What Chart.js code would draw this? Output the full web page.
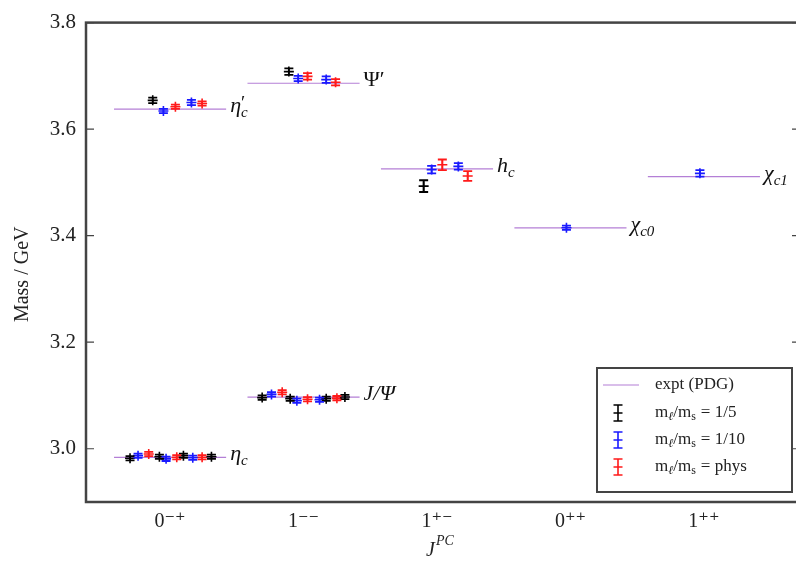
<!DOCTYPE html>
<html>
<head>
<meta charset="utf-8">
<script src="https://cdn.jsdelivr.net/npm/chart.js@4.4.0/dist/chart.umd.min.js"></script>
<style>
html, body { margin: 0; padding: 0; background: #fff; overflow: hidden; }
#wrap { width: 810px; height: 563px; }
</style>
</head>
<body>
<div id="wrap"><canvas id="mycanvas" width="810" height="563"></canvas></div>
<script>
var categories = ['0\u207B\u207A', '1\u207B\u207B', '1\u207A\u207B', '0\u207A\u207A', '1\u207A\u207A'];
var yTicks = [3.0, 3.2, 3.4, 3.6, 3.8];

// experimental (PDG) states
var pdgCat  = [0, 0, 1, 1, 2, 3, 4];
var pdgMass = [2.9836, 3.6375, 3.0969, 3.6861, 3.5253, 3.4147, 3.5107];
var pdgName = ['\u03B7', '\u03B7', 'J/\u03A8', '\u03A8\u2032', 'h', '\u03C7', '\u03C7'];
var pdgSub  = ['c', 'c', '', '', 'c', 'c0', 'c1'];
var pdgSup  = ['', '\u2032', '', '', '', '', ''];

// lattice results, x = category + offset
var m5X   = [-0.30, -0.08, 0.10, 0.31, -0.13, 0.69, 0.90, 1.17, 1.31, 0.89, 1.90];
var m5Y   = [2.982, 2.985, 2.987, 2.985, 3.654, 3.096, 3.094, 3.094, 3.097, 3.708, 3.493];
var m5Err = [0.004, 0.004, 0.004, 0.004, 0.005, 0.004, 0.004, 0.004, 0.004, 0.006, 0.011];

var m10X   = [-0.24, -0.03, 0.17, -0.05, 0.16, 0.76, 0.95, 1.12, 0.96, 1.17, 1.96, 2.16, 2.97, 3.97];
var m10Y   = [2.987, 2.981, 2.983, 3.634, 3.650, 3.102, 3.090, 3.092, 3.695, 3.693, 3.524, 3.530, 3.415, 3.517];
var m10Err = [0.004, 0.004, 0.004, 0.004, 0.005, 0.004, 0.004, 0.004, 0.005, 0.006, 0.007, 0.006, 0.004, 0.006];

var physX   = [-0.16, 0.05, 0.24, 0.04, 0.24, 0.84, 1.03, 1.25, 1.03, 1.24, 2.04, 2.23];
var physY   = [2.990, 2.984, 2.984, 3.642, 3.648, 3.106, 3.093, 3.095, 3.699, 3.688, 3.533, 3.512];
var physErr = [0.004, 0.004, 0.004, 0.004, 0.004, 0.004, 0.004, 0.004, 0.006, 0.006, 0.010, 0.009];

var halfWidth = 0.42;
var lineColor = '#b47fd6';
var serif = '"Liberation Serif", "DejaVu Serif", serif';

function pts(xs, ys) {
    var out = [];
    for (var i in xs) out.push({ x: xs[i], y: ys[i] });
    return out;
}

var datasets = [];
for (var i in pdgCat) {
    datasets.push({
        type: 'scatter',
        showLine: true,
        data: [{ x: pdgCat[i] - halfWidth, y: pdgMass[i] }, { x: pdgCat[i] + halfWidth, y: pdgMass[i] }],
        borderColor: lineColor,
        borderWidth: 1.2,
        pointRadius: 0,
        order: 10
    });
}
[[m5X, m5Y, m5Err, '#000000'], [m10X, m10Y, m10Err, '#1a1aff'], [physX, physY, physErr, '#ff1a1a']].forEach(function (s) {
    datasets.push({
        type: 'scatter',
        data: pts(s[0], s[1]),
        err: s[2],
        borderColor: s[3],
        backgroundColor: s[3],
        pointStyle: 'cross',
        pointRadius: 5,
        borderWidth: 1.6,
        order: 1
    });
});

function drawMath(ctx, x, y, base, sub, sup, size) {
    var upright = base.charAt(0) === '\u03A8';
    ctx.font = (upright ? '' : 'italic ') + size + 'px ' + serif;
    ctx.fillText(base, x, y);
    var w = ctx.measureText(base).width;
    ctx.font = 'italic ' + Math.round(size * 0.68) + 'px ' + serif;
    if (sub) ctx.fillText(sub, x + w, y + size * 0.22);
    if (sup) {
        ctx.font = Math.round(size * 0.85) + 'px ' + serif;
        ctx.fillText(sup, x + w, y - size * 0.15);
    }
}

var decor = {
    id: 'decor',
    afterDatasetsDraw: function (chart) {
        var ctx = chart.ctx, xs = chart.scales.x, ys = chart.scales.y;
        ctx.save();
        chart.data.datasets.forEach(function (ds) {
            if (!ds.err) return;
            ctx.strokeStyle = ds.borderColor;
            ctx.lineWidth = 1.8;
            ds.data.forEach(function (p, k) {
                var px = xs.getPixelForValue(p.x);
                var top = ys.getPixelForValue(p.y + ds.err[k]);
                var bot = ys.getPixelForValue(p.y - ds.err[k]);
                ctx.beginPath();
                ctx.moveTo(px, top); ctx.lineTo(px, bot);
                ctx.moveTo(px - 4.5, top); ctx.lineTo(px + 4.5, top);
                ctx.moveTo(px - 4.5, bot); ctx.lineTo(px + 4.5, bot);
                ctx.stroke();
            });
        });
        ctx.restore();
    },
    afterDraw: function (chart) {
        var ctx = chart.ctx, xs = chart.scales.x, ys = chart.scales.y, a = chart.chartArea;
        ctx.save();
        // state labels
        ctx.fillStyle = '#111';
        ctx.textBaseline = 'alphabetic';
        ctx.textAlign = 'left';
        for (var i in pdgCat) {
            var lx = xs.getPixelForValue(pdgCat[i] + halfWidth) + 4;
            var ly = ys.getPixelForValue(pdgMass[i]) + 3;
            drawMath(ctx, lx, ly, pdgName[i], pdgSub[i], pdgSup[i], 22);
        }
        // frame and inner ticks
        ctx.strokeStyle = '#444';
        ctx.lineWidth = 2.5;
        ctx.strokeRect(a.left, a.top, a.right - a.left, a.bottom - a.top);
        ctx.lineWidth = 1.2;
        yTicks.forEach(function (v) {
            var py = ys.getPixelForValue(v);
            ctx.beginPath();
            ctx.moveTo(a.left, py); ctx.lineTo(a.left + 8, py);
            ctx.moveTo(a.right, py); ctx.lineTo(a.right - 8, py);
            ctx.stroke();
        });
        // axis titles
        ctx.fillStyle = '#222';
        ctx.font = '20px ' + serif;
        ctx.save();
        ctx.translate(28, (a.top + a.bottom) / 2 + 12);
        ctx.rotate(-Math.PI / 2);
        ctx.textAlign = 'center';
        ctx.fillText('Mass / GeV', 0, 0);
        ctx.restore();
        var cx = (a.left + a.right) / 2 - 17;
        ctx.font = 'italic 20px ' + serif;
        ctx.fillText('J', cx, 556);
        ctx.font = 'italic 14px ' + serif;
        ctx.fillText('PC', cx + 10, 545);
        // legend
        var lw = 195, lh = 124;
        var bx = a.right - 8 - lw, by = a.bottom - 10 - lh;
        ctx.fillStyle = '#fff';
        ctx.fillRect(bx, by, lw, lh);
        ctx.strokeStyle = '#444';
        ctx.lineWidth = 2;
        ctx.strokeRect(bx, by, lw, lh);
        var rows = [by + 17, by + 45, by + 72, by + 99];
        var ix = bx + 21, tx = bx + 58;
        ctx.strokeStyle = lineColor;
        ctx.lineWidth = 1.2;
        ctx.beginPath(); ctx.moveTo(bx + 6, rows[0]); ctx.lineTo(bx + 42, rows[0]); ctx.stroke();
        ['#000000', '#1a1aff', '#ff1a1a'].forEach(function (c, k) {
            var ry = rows[k + 1];
            ctx.strokeStyle = c;
            ctx.lineWidth = 1.6;
            ctx.beginPath();
            ctx.moveTo(ix, ry - 8); ctx.lineTo(ix, ry + 8);
            ctx.moveTo(ix - 4.5, ry - 8); ctx.lineTo(ix + 4.5, ry - 8);
            ctx.moveTo(ix - 4.5, ry + 8); ctx.lineTo(ix + 4.5, ry + 8);
            ctx.moveTo(ix - 4.5, ry); ctx.lineTo(ix + 4.5, ry);
            ctx.stroke();
        });
        ctx.fillStyle = '#222';
        ctx.textBaseline = 'middle';
        ctx.font = '17px ' + serif;
        ctx.fillText('expt (PDG)', tx, rows[0]);
        ['1/5', '1/10', 'phys'].forEach(function (r, k) {
            var ry = rows[k + 1], x = tx;
            ctx.font = '17px ' + serif;
            ctx.fillText('m', x, ry); x += ctx.measureText('m').width;
            ctx.font = 'italic 12px ' + serif;
            ctx.fillText('\u2113', x, ry + 4); x += ctx.measureText('\u2113').width;
            ctx.font = '17px ' + serif;
            ctx.fillText('/m', x, ry); x += ctx.measureText('/m').width;
            ctx.font = '12px ' + serif;
            ctx.fillText('s', x, ry + 4); x += ctx.measureText('s').width + 2;
            ctx.font = '17px ' + serif;
            ctx.fillText('= ' + r, x + 3, ry);
        });
        ctx.restore();
    }
};

var ctx = document.getElementById('mycanvas');
var chart = new Chart(ctx, {
    type: 'scatter',
    data: { datasets: datasets },
    plugins: [decor],
    options: {
        responsive: false,
        animation: false,
        layout: { padding: { top: 17, right: 10, left: 0, bottom: 0 } },
        plugins: { legend: { display: false }, tooltip: { enabled: false } },
        scales: {
            x: {
                type: 'linear',
                min: -0.63,
                max: 4.72,
                grid: { display: false, drawTicks: false },
                border: { display: false },
                afterBuildTicks: function (scale) {
                    scale.ticks = categories.map(function (c, i) { return { value: i }; });
                },
                afterFit: function (scale) { scale.height = 61; },
                ticks: {
                    autoSkip: false,
                    maxRotation: 0,
                    padding: 8,
                    color: '#222',
                    font: { family: serif, size: 20 },
                    callback: function (v) { return categories[Math.round(v)]; }
                }
            },
            y: {
                min: 2.9,
                max: 3.8,
                grid: { display: false, drawTicks: false },
                border: { display: false },
                afterBuildTicks: function (scale) {
                    scale.ticks = yTicks.map(function (v) { return { value: v }; });
                },
                afterFit: function (scale) { scale.width = 86; },
                ticks: {
                    padding: 10,
                    color: '#222',
                    font: { family: serif, size: 21 },
                    callback: function (v) { return v.toFixed(1); }
                }
            }
        }
    }
});
</script>
</body>
</html>
